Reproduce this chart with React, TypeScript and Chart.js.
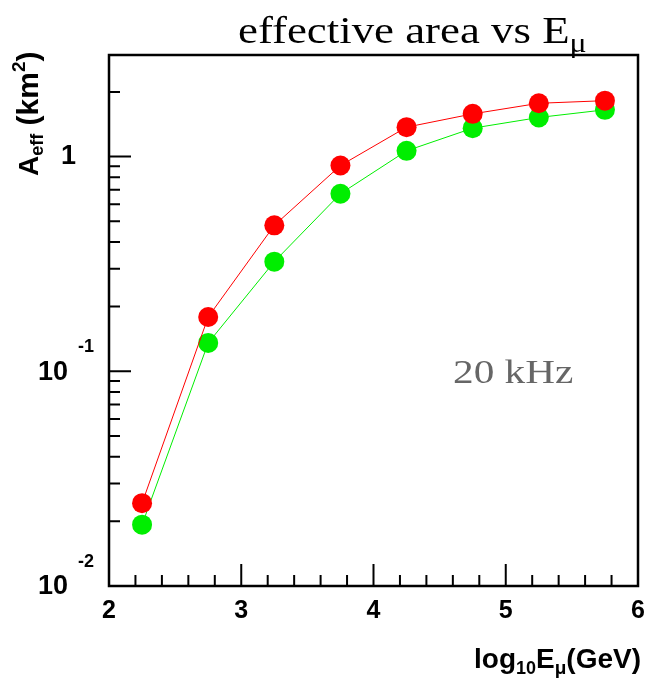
import React, { useEffect, useRef } from "react";
import { Chart, registerables } from "chart.js";

Chart.register(...registerables);

const energies = [2.25, 2.75, 3.25, 3.75, 4.25, 4.75, 5.25, 5.75];
const areaRed = [0.0243, 0.179, 0.478, 0.908, 1.37, 1.58, 1.77, 1.82];
const areaGreen = [0.0193, 0.1355, 0.324, 0.671, 1.063, 1.355, 1.52, 1.65];
const xMajorTicks = [2, 3, 4, 5, 6];
const yMajorTicks = [0.01, 0.1, 1];
const yTickLabels: [string, string][] = [["10", "-2"], ["10", "-1"], ["1", ""]];
const titleText = "effective area vs E";
const annotation = "20 kHz";

type Run = { text: string; font: string; dy: number };

function runsWidth(ctx: CanvasRenderingContext2D, runs: Run[]) {
  let w = 0;
  for (const r of runs) {
    ctx.font = r.font;
    w += ctx.measureText(r.text).width;
  }
  return w;
}
function drawRuns(ctx: CanvasRenderingContext2D, runs: Run[], x: number, y: number) {
  let cx = x;
  for (const r of runs) {
    ctx.font = r.font;
    ctx.fillText(r.text, cx, y + r.dy);
    cx += ctx.measureText(r.text).width;
  }
}

const SANS_B = (s: number) => `bold ${s}px "Liberation Sans", Arial, sans-serif`;
const SERIF = (s: number) => `${s}px "Liberation Serif", "Times New Roman", serif`;

const framePlugin = {
  id: "rootFrame",
  afterDraw(chart: any) {
    const ctx: CanvasRenderingContext2D = chart.ctx;
    const { left, right, top, bottom } = chart.chartArea;
    const xs = chart.scales.x;
    const ys = chart.scales.y;
    ctx.save();
    ctx.strokeStyle = "#000";
    ctx.fillStyle = "#000";
    ctx.lineWidth = 2.5;
    ctx.strokeRect(left, top, right - left, bottom - top);

    // x ticks (inward)
    ctx.lineWidth = 2;
    ctx.beginPath();
    for (let i = 0; i < xMajorTicks.length - 1; i++) {
      const a = xMajorTicks[i];
      const b = xMajorTicks[i + 1];
      for (let k = 0; k <= 5; k++) {
        const v = a + ((b - a) * k) / 5;
        const px = xs.getPixelForValue(v);
        const len = k === 0 ? 22 : 11;
        ctx.moveTo(px, bottom);
        ctx.lineTo(px, bottom - len);
      }
    }
    // y ticks (inward, log)
    for (let i = 0; i < yMajorTicks.length; i++) {
      const dec = yMajorTicks[i];
      for (let m = 1; m <= 9; m++) {
        const v = dec * m;
        if (v > ys.max) break;
        const py = ys.getPixelForValue(v);
        const len = m === 1 ? 22 : 11;
        ctx.moveTo(left, py);
        ctx.lineTo(left + len, py);
      }
    }
    ctx.stroke();

    // x tick labels
    ctx.textAlign = "center";
    ctx.textBaseline = "middle";
    ctx.font = SANS_B(25);
    for (const v of xMajorTicks) {
      ctx.fillText(String(v), xs.getPixelForValue(v), 611);
    }
    // y tick labels
    for (let i = 0; i < yMajorTicks.length; i++) {
      const py = ys.getPixelForValue(yMajorTicks[i]);
      const [base, exp] = yTickLabels[i];
      ctx.textBaseline = "middle";
      if (exp) {
        ctx.textAlign = "right";
        ctx.font = SANS_B(27);
        ctx.fillText(base, 68, py + 1);
        ctx.textAlign = "left";
        ctx.font = SANS_B(18);
        ctx.fillText(exp, 78, py - 24);
      } else {
        ctx.textAlign = "right";
        ctx.font = SANS_B(27);
        ctx.fillText(base, 76, py);
      }
    }

    // x axis title
    ctx.textAlign = "left";
    ctx.textBaseline = "alphabetic";
    const xt: Run[] = [
      { text: "log", font: SANS_B(28), dy: 0 },
      { text: "10", font: SANS_B(18), dy: 6 },
      { text: "E", font: SANS_B(28), dy: 0 },
      { text: "\u03bc", font: SANS_B(19), dy: 6 },
      { text: "(GeV)", font: SANS_B(28), dy: 0 },
    ];
    drawRuns(ctx, xt, 641 - runsWidth(ctx, xt), 668);

    // y axis title (rotated)
    ctx.save();
    ctx.translate(38, 176);
    ctx.rotate(-Math.PI / 2);
    const yt: Run[] = [
      { text: "A", font: SANS_B(28), dy: 0 },
      { text: "eff", font: SANS_B(18), dy: 5 },
      { text: " (km", font: SANS_B(30), dy: 0 },
      { text: "2", font: SANS_B(19), dy: -13 },
      { text: ")", font: SANS_B(30), dy: 0 },
    ];
    drawRuns(ctx, yt, 0, 0);
    ctx.restore();

    // title (horizontally widened like the reference rendering)
    ctx.save();
    ctx.translate(238, 43);
    ctx.scale(1.18, 1);
    const tt: Run[] = [
      { text: titleText, font: SERIF(38), dy: 0 },
      { text: "\u03bc", font: SERIF(27), dy: 9 },
    ];
    drawRuns(ctx, tt, 0, 0);
    ctx.restore();

    // annotation
    ctx.save();
    ctx.fillStyle = "#666666";
    ctx.translate(453, 383);
    ctx.scale(1.25, 1);
    ctx.font = SERIF(33);
    ctx.fillText(annotation, 0, 0);
    ctx.restore();
    ctx.restore();
  },
};

export default function App() {
  const ref = useRef<HTMLCanvasElement>(null);
  useEffect(() => {
    if (!ref.current) return;
    const chart = new Chart(ref.current, {
      type: "scatter",
      data: {
        datasets: [
          {
            data: energies.map((x, i) => ({ x, y: areaRed[i] })),
            showLine: true,
            borderColor: "#ff0000",
            backgroundColor: "#ff0000",
            borderWidth: 1,
            pointRadius: 10,
            pointBorderWidth: 0,
            pointBackgroundColor: "#ff0000",
            clip: false,
          },
          {
            data: energies.map((x, i) => ({ x, y: areaGreen[i] })),
            showLine: true,
            borderColor: "#00ee00",
            backgroundColor: "#00ee00",
            borderWidth: 1,
            pointRadius: 10,
            pointBorderWidth: 0,
            pointBackgroundColor: "#00ee00",
            clip: false,
          },
        ],
      },
      options: {
        animation: false,
        responsive: false,
        devicePixelRatio: 1,
        layout: { padding: { left: 109, right: 7, top: 55, bottom: 94 } },
        plugins: { legend: { display: false }, tooltip: { enabled: false }, title: { display: false } },
        events: [],
        scales: {
          x: { type: "linear", min: 2, max: 6, display: false },
          y: { type: "logarithmic", min: 0.01, max: 2.97, display: false },
        },
      },
      plugins: [framePlugin],
    });
    return () => chart.destroy();
  }, []);
  return (
    <div style={{ position: "fixed", left: 0, top: 0, width: 648, height: 680, background: "#fff" }}>
      <canvas ref={ref} width={648} height={680} />
    </div>
  );
}
